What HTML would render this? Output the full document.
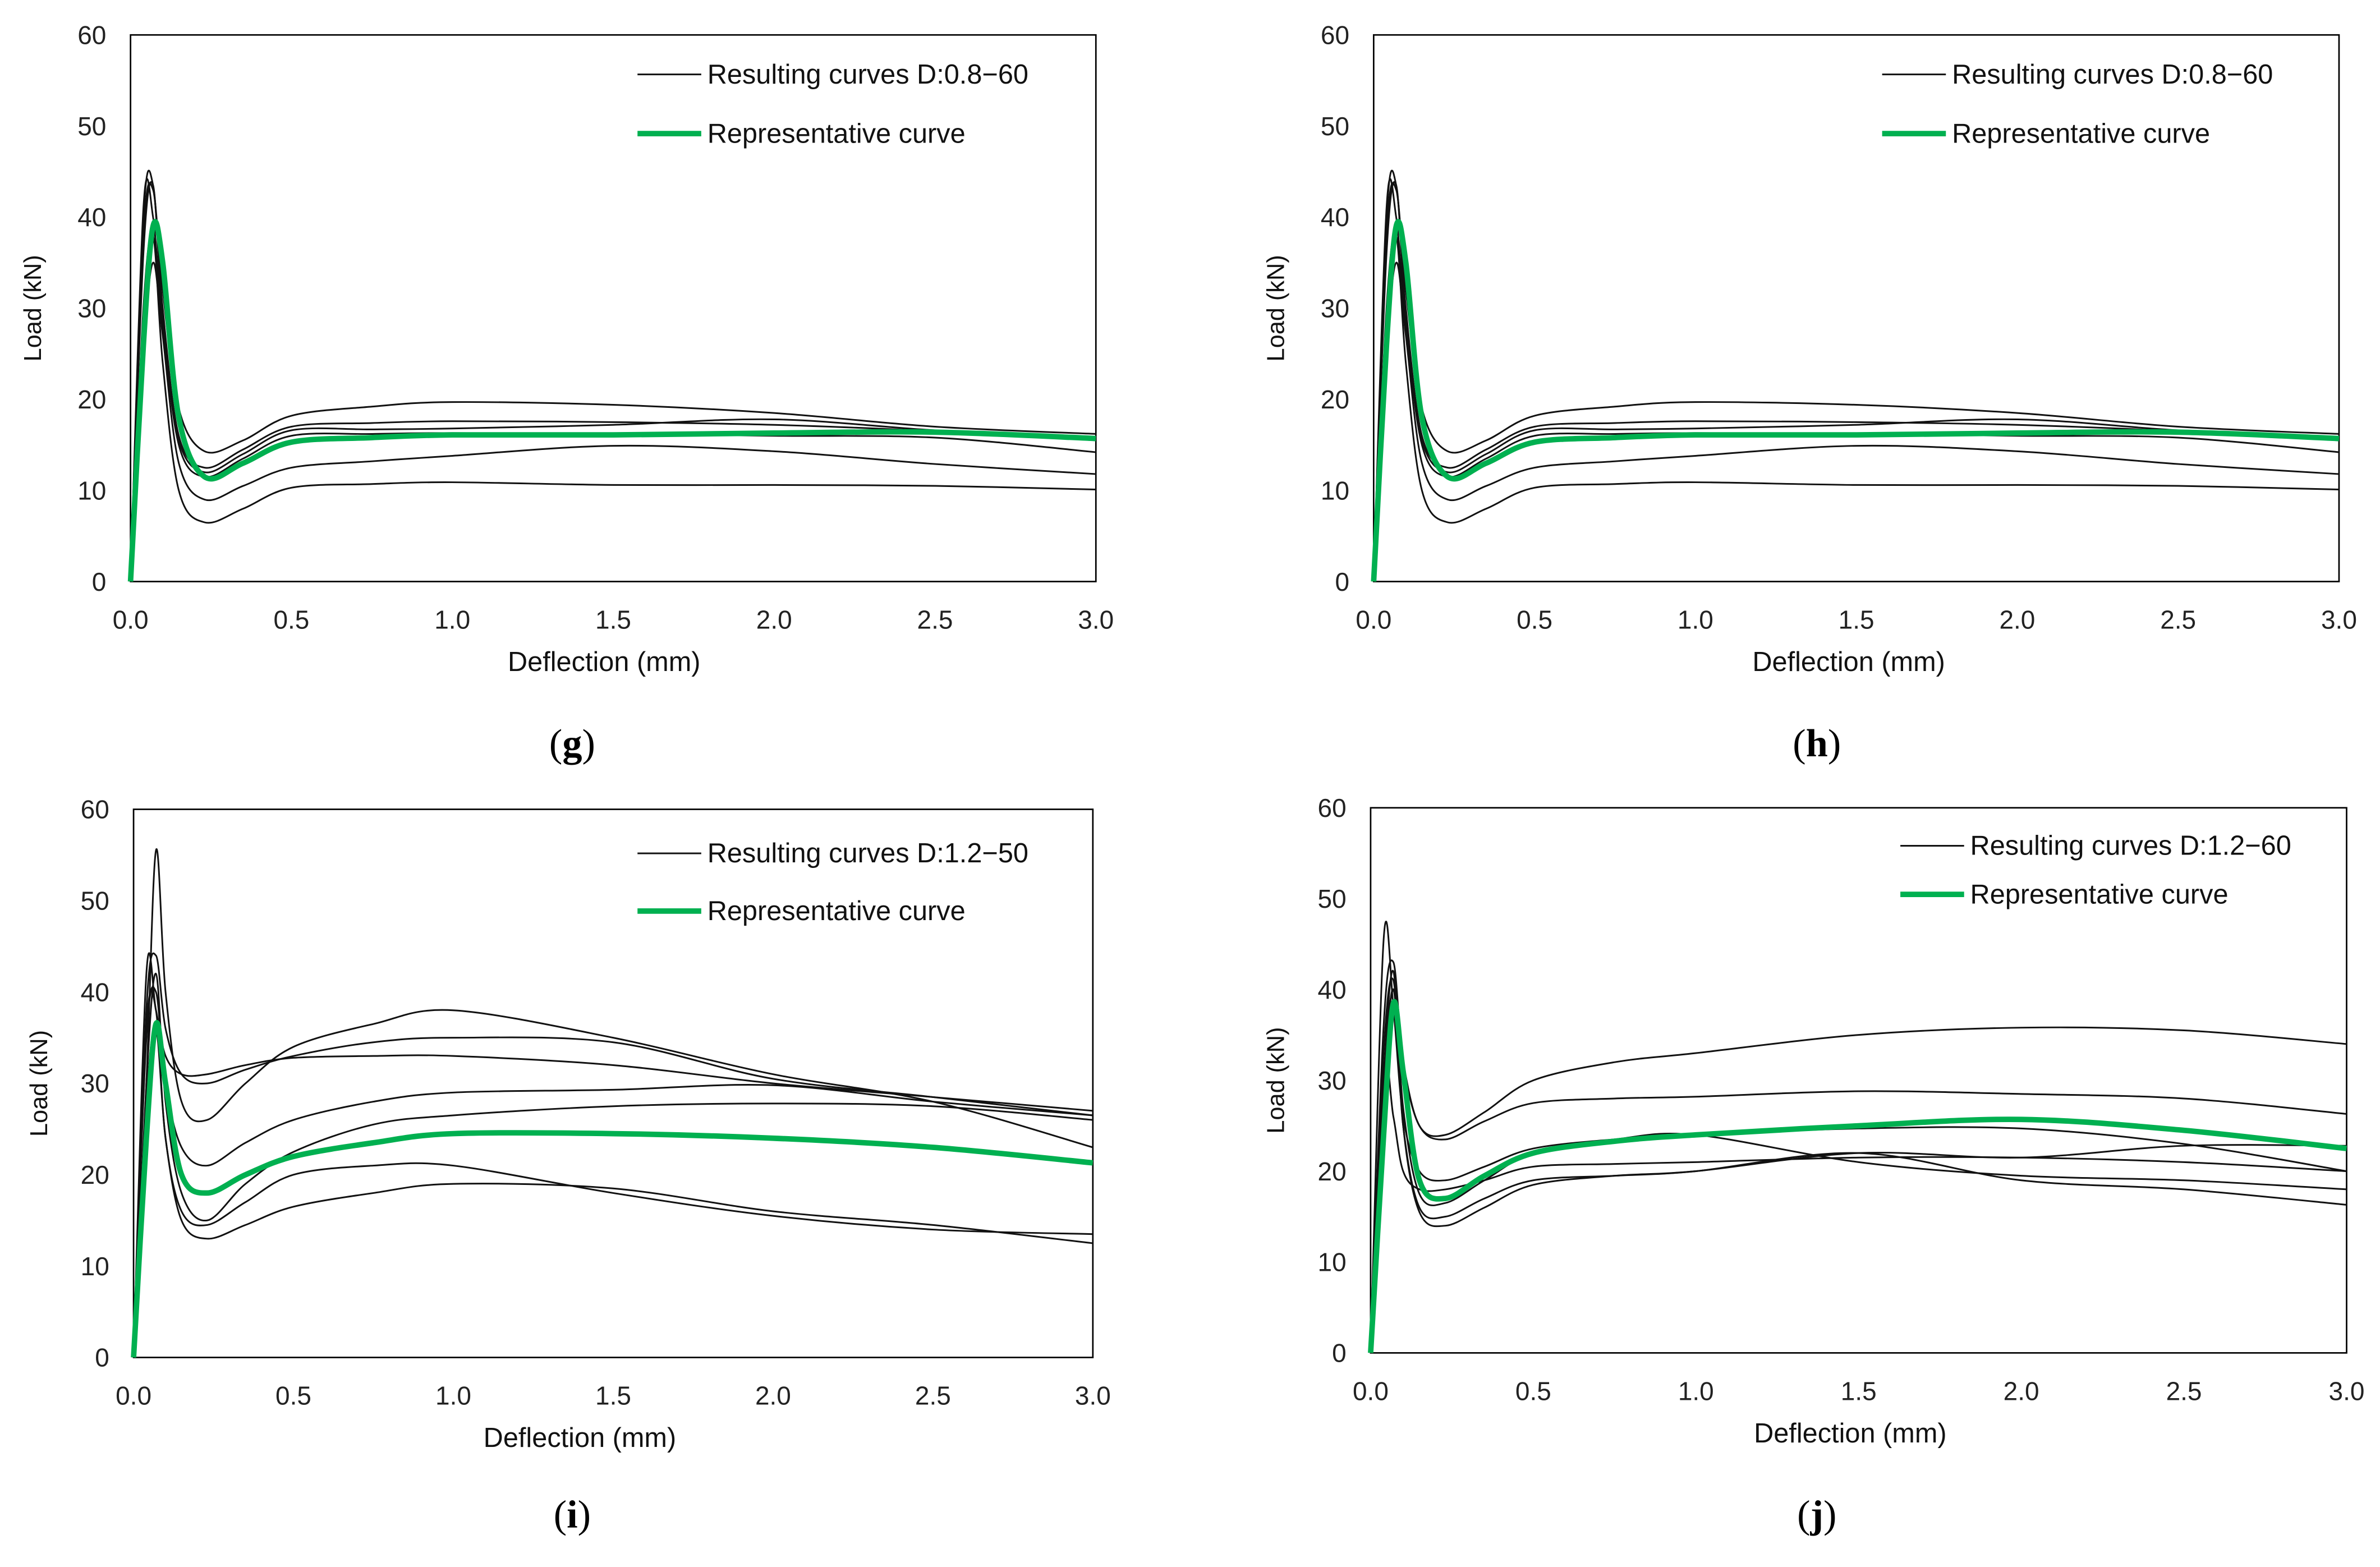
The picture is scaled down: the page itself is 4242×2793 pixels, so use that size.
<!DOCTYPE html>
<html><head><meta charset="utf-8"><style>
html,body{margin:0;padding:0;background:#fff}
svg{display:block}
.tick{font-family:"Liberation Sans Narrow","Liberation Sans",sans-serif;font-size:17px;fill:#222}
.ttl{font-family:"Liberation Sans Narrow","Liberation Sans",sans-serif;font-size:18px;fill:#111}
.ylab{font-family:"Liberation Sans",sans-serif;font-size:16px;fill:#111;font-weight:500}
.leg{font-family:"Liberation Sans Narrow","Liberation Sans",sans-serif;font-size:18px;fill:#111}
.cap{font-family:"Liberation Serif",serif;font-size:26px;fill:#000}
</style></head><body>
<svg id="fig" width="4242" height="2793" viewBox="0 0 1568 1032" preserveAspectRatio="none" xmlns="http://www.w3.org/2000/svg"></svg>
<script>
const xs = [0,0.04,0.07,0.1,0.15,0.23,0.35,0.5,0.75,1.0,1.5,2.0,2.5,3.0];
const xTicks = ["0.0","0.5","1.0","1.5","2.0","2.5","3.0"];
const yTicks = ["0","10","20","30","40","50","60"];
// panel g / h
const gBlack = [
 [0,38,43,32,19,14.3,15.5,18.2,19.2,19.7,19.4,18.5,17.0,16.2],
 [0,40,43.5,30,16,12.5,14.5,17,17.4,17.6,17.5,17.2,16.5,15.5],
 [0,41,40,28,15.5,12,14,16.6,16.7,16.8,17.2,17.8,16.6,15.8],
 [0,36,43.5,29,15,11.5,13.5,16,16.2,16.3,16.2,16.0,15.8,14.2],
 [0,25,35,27,13,9,10.5,12.5,13.2,13.8,14.9,14.3,12.9,11.8],
 [0,30,38,24,10,6.5,8,10.3,10.7,10.9,10.6,10.6,10.5,10.1]
];
const gGreen = [0,26,39,35,18,11.5,13,15.3,15.8,16.1,16.1,16.3,16.4,15.7];
// panel i
const iBlack = [
 [0,30,55.5,40,28,26,30,34,36.5,38,35,31,28,23],
 [0,38,44,36,31,30,31.5,33,34.5,35,34.5,30.5,28.5,26.5],
 [0,42,38,33,31,31,32,32.8,33,33,32,30,28.5,27],
 [0,35,40,30,23,21,23.5,26,28,29,29.3,29.8,28,26.5],
 [0,30,42,28,18,15,19,22.5,25.5,26.5,27.5,27.8,27.5,26],
 [0,36,38,24,16,14.5,17,20,21,21,18,15.5,14,13.5],
 [0,28,36,24,15,13,14.5,16.5,18,19,18.5,16,14.5,12.5]
];
const iGreen = [0,24,36.5,30,20,18,20,22,23.5,24.5,24.5,24,23,21.3];
// panel j
const jBlack = [
 [0,30,40,32,25,24,26.5,30,32,33,35,35.8,35.5,34],
 [0,36,43,32,25,23.5,25.5,27.5,28,28.2,28.8,28.5,28,26.3],
 [0,45.5,38,26,20,19,20.5,22.5,23.5,24,24.7,24.7,23,20],
 [0,31,26,20,18,18,19,20.5,20.8,21,21.5,21.5,21,20],
 [0,28,40,25,16,15,17,19,19.5,20,22,21.5,22.8,22.8],
 [0,30,42,25,15.5,14,16,18.5,19.5,20,22,19,18,16.3],
 [0,33,41,27,17.5,16.5,19,22,23.5,24,21,19.5,19,18]
];
const jGreen = [0,24,38.5,31,19,17,19.5,22,23.3,24,25,25.7,24.5,22.5];

const panels = [
 {id:"g",L:86,R:722,T:23,B:383,black:gBlack,green:gGreen,leg:"Resulting curves D:0.8\u221260",lx:420,ly1:49,ly2:88,xt:398,yl:22,cx:377,cy:490},
 {id:"h",L:905,R:1541,T:23,B:383,black:gBlack,green:gGreen,leg:"Resulting curves D:0.8\u221260",lx:1240,ly1:49,ly2:88,xt:1218,yl:841,cx:1197,cy:490},
 {id:"i",L:88,R:720,T:533,B:894,black:iBlack,green:iGreen,leg:"Resulting curves D:1.2\u221250",lx:420,ly1:562,ly2:600,xt:382,yl:26,cx:377,cy:998},
 {id:"j",L:903,R:1546,T:532,B:891,black:jBlack,green:jGreen,leg:"Resulting curves D:1.2\u221260",lx:1252,ly1:557,ly2:589,xt:1219,yl:841,cx:1197,cy:998}
];
const NS="http://www.w3.org/2000/svg";
const svg=document.getElementById('fig');
function mk(tag,attrs,parent){const e=document.createElementNS(NS,tag);for(const k in attrs)e.setAttribute(k,attrs[k]);(parent||svg).appendChild(e);return e;}
function pathFrom(pts){
 let d="M"+pts[0][0].toFixed(2)+","+pts[0][1].toFixed(2);
 for(let i=0;i<pts.length-1;i++){
  const p0=pts[Math.max(0,i-1)],p1=pts[i],p2=pts[i+1],p3=pts[Math.min(pts.length-1,i+2)];
  const c1x=p1[0]+(p2[0]-p0[0])/6,c1y=p1[1]+(p2[1]-p0[1])/6;
  const c2x=p2[0]-(p3[0]-p1[0])/6,c2y=p2[1]-(p3[1]-p1[1])/6;
  d+=" C"+c1x.toFixed(2)+","+c1y.toFixed(2)+" "+c2x.toFixed(2)+","+c2y.toFixed(2)+" "+p2[0].toFixed(2)+","+p2[1].toFixed(2);
 }
 return d;
}
panels.forEach(p=>{
 const g=mk('g',{});
 
 
 const X=v=>p.L+(v/3)*(p.R-p.L);
 const Y=v=>p.B-(v/60)*(p.B-p.T);
 const frame=mk('rect',{x:p.L,y:p.T,width:p.R-p.L,height:p.B-p.T,fill:'none',stroke:'#000','stroke-width':1},g);
 
 
 xTicks.forEach(t=>{
  const e=mk('text',{x:X(parseFloat(t)),y:p.B+31,'text-anchor':'middle',class:'tick'},g);
  e.textContent=t;
  
  
 });
 yTicks.forEach(t=>{
  const e=mk('text',{x:p.L-16,y:Y(parseFloat(t))+6,'text-anchor':'end',class:'tick'},g);
  e.textContent=t;
  
  
 });
 const xt=mk('text',{x:p.xt,y:p.B+59,'text-anchor':'middle',class:'ttl'},g);
 xt.textContent="Deflection (mm)";
 
 
 const ym=(p.T+p.B)/2;
 const yt=mk('text',{x:p.yl,y:ym,'text-anchor':'middle',class:'ylab',transform:'rotate(-90 '+p.yl+' '+ym+')','dy':'5'},g);
 yt.textContent="Load (kN)";
 
 
 p.black.forEach((c,ci)=>{
  const pts=c.map((v,i)=>[X(xs[i]),Y(v)]);
  const e=mk('path',{d:pathFrom(pts),fill:'none',stroke:'#111','stroke-width':1.1},g);
  
  
 });
 const gp=c=>c.map((v,i)=>[X(xs[i]),Y(v)]);
 const gr=mk('path',{d:pathFrom(gp(p.green)),fill:'none',stroke:'#00b050','stroke-width':3.6},g);
 
 
 const l1=mk('line',{x1:p.lx,x2:p.lx+42,y1:p.ly1,y2:p.ly1,stroke:'#111','stroke-width':1.1},g);
 
 
 const t1=mk('text',{x:p.lx+46,y:p.ly1+6,class:'leg'},g);
 t1.textContent=p.leg;
 
 
 const l2=mk('line',{x1:p.lx,x2:p.lx+42,y1:p.ly2,y2:p.ly2,stroke:'#00b050','stroke-width':3.6},g);
 
 
 const t2=mk('text',{x:p.lx+46,y:p.ly2+6,class:'leg'},g);
 t2.textContent="Representative curve";
 
 
 const cap=mk('text',{x:p.cx,y:p.cy+8,'text-anchor':'middle',class:'cap'},g);
 
 
 const a=mk('tspan',{},cap); a.textContent="(";
 const b=mk('tspan',{'font-weight':'bold'},cap); b.textContent=p.id;
 const c=mk('tspan',{},cap); c.textContent=")";
});
</script>
</body></html>
